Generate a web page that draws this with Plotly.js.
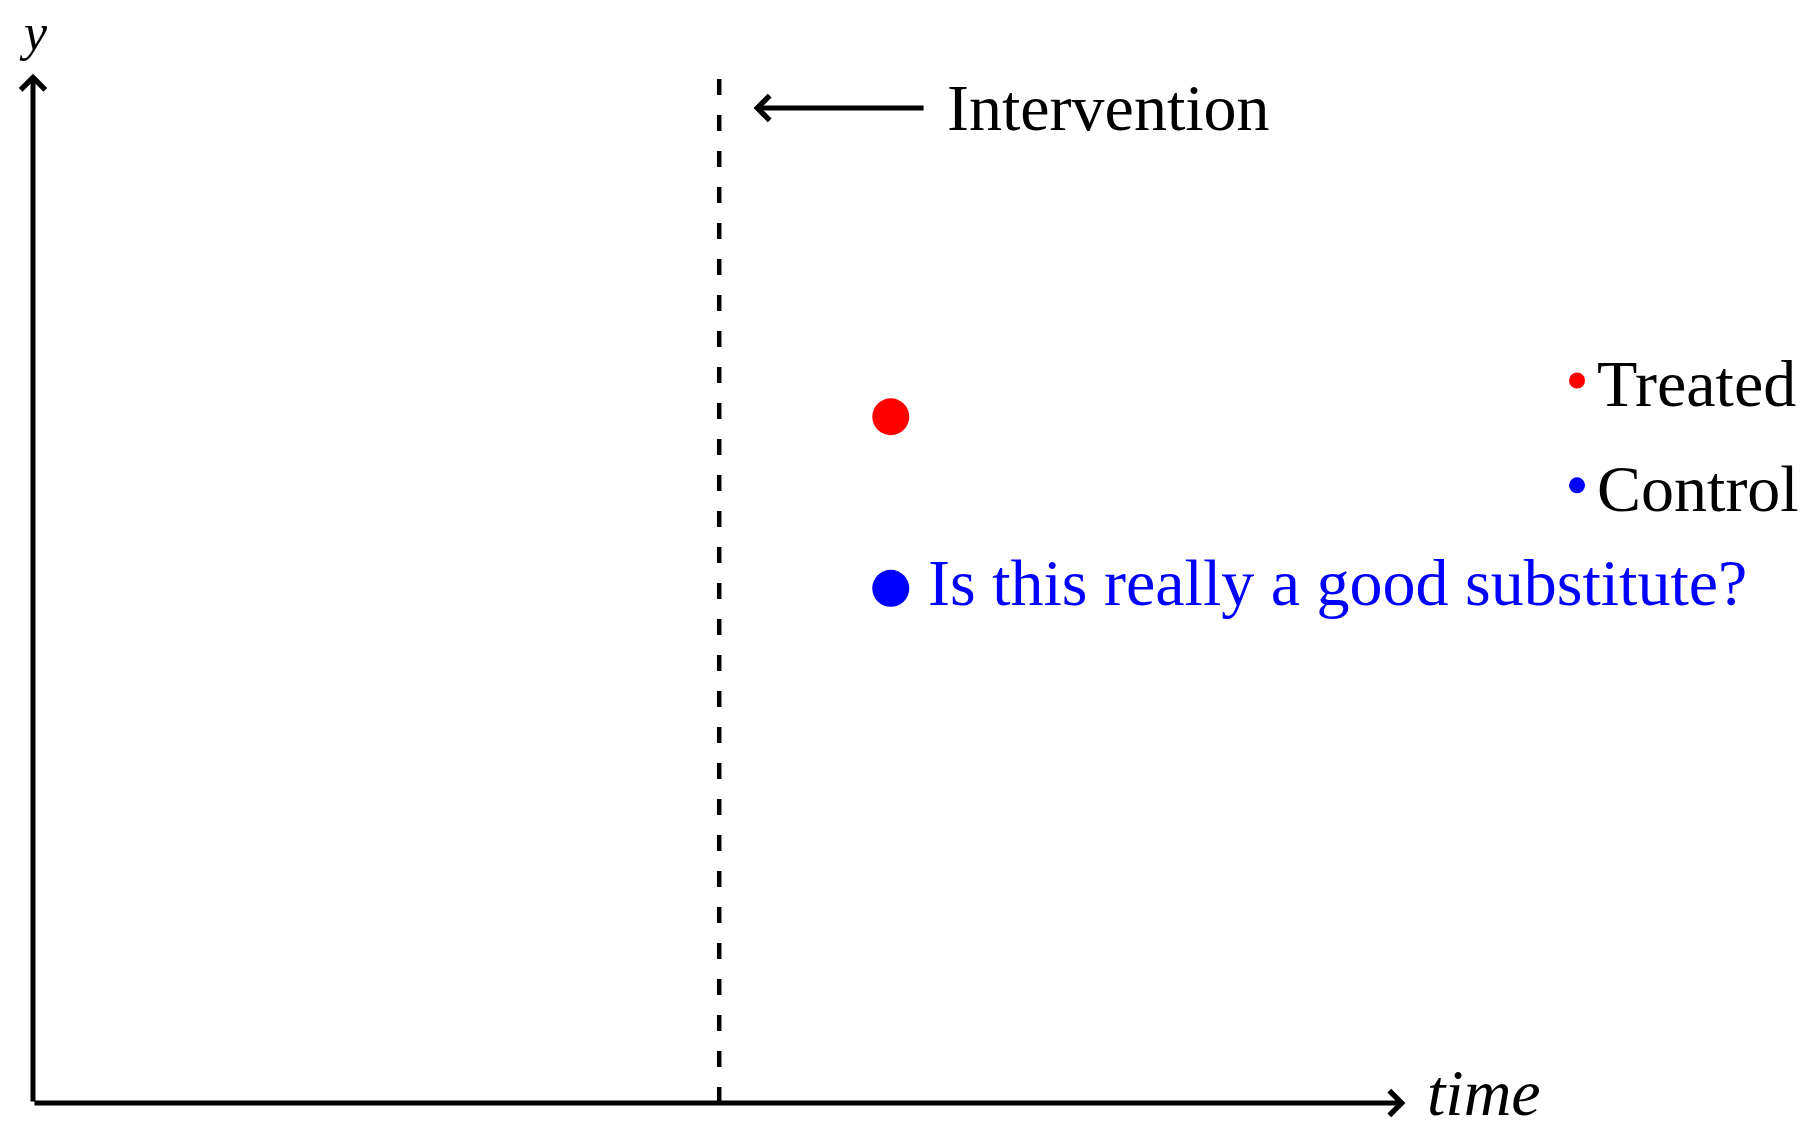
<!DOCTYPE html>
<html>
<head>
<meta charset="utf-8">
<script src="https://cdn.plot.ly/plotly-3.0.1.min.js"></script>
<style>html,body{margin:0;padding:0;background:#fff;}#chart{width:1819px;height:1132px;}</style>
</head>
<body>
<div id="chart"></div>
<script>
// ---- data ----
const seriesNames = ['Treated', 'Control'];
const seriesColors = ['#ff0000', '#0000ff'];
const treatedTime = [5];
const treatedY = [4];
const controlTime = [5];
const controlY = [3];
const interventionTime = 4;
const axisTimeEnd = 8;
const axisYEnd = 6;
const interventionLabel = 'Intervention';
const controlNote = 'Is this really a good substitute?';
const xAxisLabel = 'time';
const yAxisLabel = 'y';

const FONT = 'Liberation Serif, Times New Roman, serif';
const FS = 66;

const traces = [
  {x: treatedTime, y: treatedY, name: seriesNames[0], type: 'scatter', mode: 'markers',
   legendgroup: 'g1', marker: {color: seriesColors[0], size: 37}, hoverinfo: 'skip'},
  {x: controlTime, y: controlY, name: seriesNames[1], type: 'scatter', mode: 'markers',
   legendgroup: 'g2', marker: {color: seriesColors[1], size: 37}, hoverinfo: 'skip'}
];

const arrowStyle = {showarrow: true, arrowhead: 4, arrowsize: 0.95, arrowwidth: 5,
  arrowcolor: '#000', text: '', xref: 'x', yref: 'y', axref: 'x', ayref: 'y', standoff: 0};

const layout = {
  width: 1819, height: 1132,
  margin: {l: 33, r: 19, t: 5, b: 29, pad: 0},
  paper_bgcolor: '#fff', plot_bgcolor: '#fff',
  font: {family: FONT, size: FS, color: '#000'},
  xaxis: {range: [0, 10.3], showgrid: false, zeroline: false, showline: false,
          showticklabels: false, ticks: '', fixedrange: true},
  yaxis: {range: [0, 6.4], showgrid: false, zeroline: false, showline: false,
          showticklabels: false, ticks: '', fixedrange: true},
  showlegend: true,
  legend: {x: 0.8625, xanchor: 'left', y: 0.703, yanchor: 'top',
           font: {family: FONT, size: FS, color: '#000'},
           bgcolor: 'rgba(0,0,0,0)', borderwidth: 0, tracegroupgap: 16,
           itemsizing: 'trace', traceorder: 'grouped'},
  shapes: [
    {type: 'line', xref: 'x', yref: 'y', x0: interventionTime, x1: interventionTime,
     y0: 0, y1: axisYEnd, line: {color: '#000', width: 4.5, dash: '16px,20px'}}
  ],
  annotations: [
    Object.assign({}, arrowStyle, {x: axisTimeEnd, y: 0, ax: 0, ay: 0}),
    Object.assign({}, arrowStyle, {x: 0, y: axisYEnd, ax: 0, ay: 0}),
    Object.assign({}, arrowStyle, {x: interventionTime + 0.2, y: axisYEnd - 0.2,
                                   ax: interventionTime + 1.2, ay: axisYEnd - 0.2}),
    {x: interventionTime + 1.2, y: axisYEnd - 0.2, xref: 'x', yref: 'y', text: interventionLabel,
     showarrow: false, xanchor: 'left', yanchor: 'middle', xshift: 20,
     font: {family: FONT, size: FS, color: '#000'}},
    {x: controlTime[0], y: controlY[0], xref: 'x', yref: 'y', text: controlNote,
     showarrow: false, xanchor: 'left', yanchor: 'middle', xshift: 35, yshift: 6,
     font: {family: FONT, size: FS, color: seriesColors[1]}},
    {x: axisTimeEnd, y: 0, xref: 'x', yref: 'y', text: '<i>' + xAxisLabel + '</i>',
     showarrow: false, xanchor: 'left', yanchor: 'bottom', xshift: 20, yshift: -28,
     font: {family: FONT, size: FS, color: '#000'}},
    {x: 0, y: axisYEnd, xref: 'x', yref: 'y', text: '<i>' + yAxisLabel + '</i>',
     showarrow: false, xanchor: 'center', yanchor: 'bottom', yshift: 11,
     font: {family: FONT, size: 52, color: '#000'}}
  ]
};

Plotly.newPlot('chart', traces, layout, {displayModeBar: false, staticPlot: true});
</script>
</body>
</html>
